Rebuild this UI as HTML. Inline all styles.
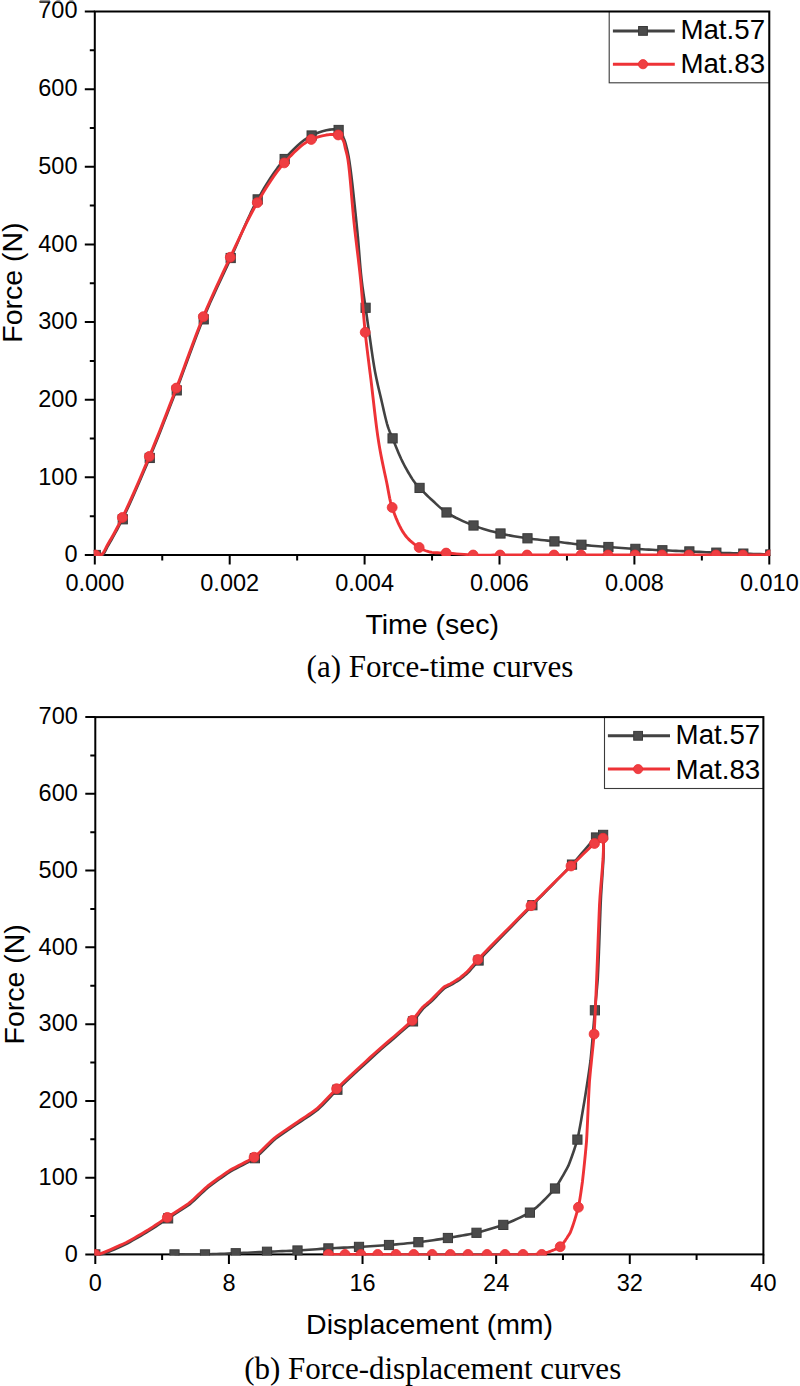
<!DOCTYPE html>
<html><head><meta charset="utf-8"><title>Force curves</title>
<style>
html,body{margin:0;padding:0;background:#fff;}
body{width:800px;height:1386px;overflow:hidden;}
svg{display:block;}
.tk{font-family:"Liberation Sans",Arial,sans-serif;font-size:23.5px;fill:#000;}
.lg{font-family:"Liberation Sans",Arial,sans-serif;font-size:27.7px;fill:#000;}
.at{font-family:"Liberation Sans",Arial,sans-serif;font-size:28.5px;fill:#000;}
.cap{font-family:"Liberation Serif","Times New Roman",serif;font-size:31px;fill:#000;}
</style></head>
<body>
<svg width="800" height="1386" viewBox="0 0 800 1386">
<rect width="800" height="1386" fill="#fff"/>
<rect x="609.20" y="11.50" width="160.10" height="71.30" fill="#fff" stroke="#3a3a3a" stroke-width="1.1"/>
<path d="M612.90,30.90 H674.80" stroke="#424242" stroke-width="3"/>
<rect x="638.60" y="26.50" width="8.8" height="8.8" fill="#4b4b4b" stroke="#3a3a3a" stroke-width="1"/>
<path d="M612.90,64.20 H674.80" stroke="#ee3236" stroke-width="3"/>
<circle cx="643.00" cy="64.20" r="4.6" fill="#ef3e42" stroke="#ec2d31" stroke-width="0.8"/>
<text x="680.40" y="39.30" class="lg">Mat.57</text>
<text x="680.40" y="72.90" class="lg">Mat.83</text>
<rect x="94.80" y="11.50" width="674.50" height="543.50" fill="none" stroke="#000" stroke-width="2"/>
<path d="M94.80,555.00 V564.50 M229.70,555.00 V564.50 M364.60,555.00 V564.50 M499.50,555.00 V564.50 M634.40,555.00 V564.50 M769.30,555.00 V564.50 M162.25,555.00 V560.50 M297.15,555.00 V560.50 M432.05,555.00 V560.50 M566.95,555.00 V560.50 M701.85,555.00 V560.50 M94.80,555.00 H84.80 M94.80,477.36 H84.80 M94.80,399.71 H84.80 M94.80,322.07 H84.80 M94.80,244.43 H84.80 M94.80,166.79 H84.80 M94.80,89.14 H84.80 M94.80,11.50 H84.80 M94.80,516.18 H89.80 M94.80,438.54 H89.80 M94.80,360.89 H89.80 M94.80,283.25 H89.80 M94.80,205.61 H89.80 M94.80,127.96 H89.80 M94.80,50.32 H89.80" stroke="#000" stroke-width="2" fill="none"/>
<text x="94.80" y="591.00" text-anchor="middle" class="tk">0.000</text>
<text x="229.70" y="591.00" text-anchor="middle" class="tk">0.002</text>
<text x="364.60" y="591.00" text-anchor="middle" class="tk">0.004</text>
<text x="499.50" y="591.00" text-anchor="middle" class="tk">0.006</text>
<text x="634.40" y="591.00" text-anchor="middle" class="tk">0.008</text>
<text x="769.30" y="591.00" text-anchor="middle" class="tk">0.010</text>
<text x="77.50" y="562.30" text-anchor="end" class="tk">0</text>
<text x="77.50" y="484.66" text-anchor="end" class="tk">100</text>
<text x="77.50" y="407.01" text-anchor="end" class="tk">200</text>
<text x="77.50" y="329.37" text-anchor="end" class="tk">300</text>
<text x="77.50" y="251.73" text-anchor="end" class="tk">400</text>
<text x="77.50" y="174.09" text-anchor="end" class="tk">500</text>
<text x="77.50" y="96.44" text-anchor="end" class="tk">600</text>
<text x="77.50" y="18.30" text-anchor="end" class="tk">700</text>
<clipPath id="ca"><rect x="93.80" y="10.50" width="676.50" height="545.50"/></clipPath>
<g clip-path="url(#ca)">
<path d="M95.20,556.00 L95.98,556.04 L96.78,556.15 L97.57,556.27 L98.37,556.39 L99.16,556.45 L99.93,556.44 L100.68,556.30 L101.40,556.00 L102.37,555.28 L103.27,554.29 L104.11,553.05 L104.93,551.63 L105.74,550.07 L106.57,548.41 L107.45,546.71 L108.40,545.00 L109.96,542.33 L111.61,539.48 L113.33,536.44 L115.12,533.22 L116.97,529.81 L118.87,526.22 L120.81,522.45 L122.78,518.50 L125.84,512.13 L129.08,505.14 L132.46,497.66 L135.93,489.81 L139.44,481.74 L142.94,473.55 L146.40,465.40 L149.76,457.39 L153.20,449.07 L156.61,440.66 L160.00,432.17 L163.37,423.61 L166.72,415.01 L170.06,406.37 L173.40,397.72 L176.74,389.07 L180.12,380.17 L183.47,371.16 L186.80,362.08 L190.12,353.00 L193.46,343.96 L196.83,335.01 L200.24,326.22 L203.72,317.64 L207.00,309.90 L210.32,302.33 L213.69,294.88 L217.08,287.52 L220.49,280.21 L223.90,272.92 L227.31,265.61 L230.70,258.24 L234.04,250.78 L237.33,243.20 L240.61,235.57 L243.90,227.98 L247.23,220.49 L250.62,213.18 L254.09,206.12 L257.68,199.40 L260.86,193.78 L264.08,188.28 L267.34,182.92 L270.66,177.72 L274.04,172.71 L277.50,167.90 L281.04,163.33 L284.66,159.02 L287.84,155.46 L291.06,151.99 L294.34,148.64 L297.68,145.47 L301.07,142.52 L304.53,139.84 L308.05,137.49 L311.64,135.50 L315.02,133.96 L318.70,132.54 L322.52,131.30 L326.35,130.30 L330.02,129.61 L333.39,129.28 L336.31,129.39 L338.62,129.98 L339.72,130.66 L340.63,131.57 L341.39,132.67 L342.02,133.90 L342.56,135.21 L343.05,136.53 L343.52,137.81 L344.00,139.00 L344.42,139.98 L344.78,140.94 L345.11,141.89 L345.40,142.84 L345.68,143.81 L345.94,144.82 L346.21,145.87 L346.50,147.00 L346.89,148.57 L347.27,150.15 L347.64,151.78 L348.00,153.50 L348.36,155.35 L348.73,157.36 L349.11,159.56 L349.50,162.00 L350.40,168.30 L351.39,176.00 L352.42,184.74 L353.47,194.14 L354.51,203.83 L355.52,213.46 L356.46,222.63 L357.30,231.00 L357.92,237.46 L358.47,243.82 L358.98,250.05 L359.46,256.13 L359.93,262.06 L360.42,267.81 L360.93,273.36 L361.50,278.70 L361.98,282.70 L362.48,286.55 L363.00,290.26 L363.53,293.87 L364.06,297.41 L364.58,300.88 L365.10,304.34 L365.60,307.79 L366.03,310.85 L366.45,313.79 L366.85,316.66 L367.25,319.51 L367.66,322.39 L368.08,325.35 L368.52,328.44 L369.00,331.70 L369.65,336.24 L370.34,341.11 L371.06,346.20 L371.80,351.42 L372.57,356.65 L373.36,361.79 L374.17,366.74 L375.00,371.40 L375.70,375.03 L376.42,378.51 L377.15,381.89 L377.89,385.19 L378.65,388.46 L379.42,391.73 L380.21,395.03 L381.00,398.40 L381.83,402.03 L382.69,405.81 L383.56,409.66 L384.44,413.49 L385.33,417.22 L386.22,420.77 L387.11,424.06 L388.00,427.00 L388.56,428.66 L389.10,430.14 L389.63,431.50 L390.17,432.79 L390.72,434.06 L391.30,435.38 L391.91,436.80 L392.58,438.38 L393.63,440.94 L394.76,443.74 L395.96,446.72 L397.21,449.81 L398.52,452.94 L399.86,456.04 L401.22,459.05 L402.60,461.90 L403.92,464.48 L405.31,467.10 L406.74,469.70 L408.19,472.25 L409.64,474.70 L411.05,477.00 L412.41,479.12 L413.70,481.00 L414.46,482.05 L415.17,482.98 L415.85,483.82 L416.52,484.61 L417.20,485.38 L417.92,486.17 L418.70,487.00 L419.56,487.92 L420.91,489.34 L422.39,490.85 L423.97,492.43 L425.63,494.05 L427.34,495.69 L429.07,497.33 L430.80,498.94 L432.50,500.50 L434.17,502.04 L435.80,503.58 L437.42,505.10 L439.07,506.62 L440.77,508.11 L442.57,509.59 L444.48,511.04 L446.54,512.45 L449.42,514.23 L452.55,516.00 L455.87,517.74 L459.34,519.43 L462.89,521.07 L466.47,522.63 L470.04,524.11 L473.52,525.50 L476.85,526.74 L480.20,527.89 L483.56,528.97 L486.94,529.98 L490.32,530.92 L493.71,531.82 L497.10,532.67 L500.50,533.49 L503.85,534.25 L507.22,534.95 L510.59,535.60 L513.96,536.20 L517.34,536.76 L520.72,537.29 L524.10,537.81 L527.48,538.31 L530.85,538.77 L534.22,539.20 L537.59,539.58 L540.96,539.95 L544.34,540.30 L547.71,540.66 L551.09,541.02 L554.46,541.41 L557.83,541.83 L561.20,542.26 L564.58,542.70 L567.95,543.14 L571.32,543.57 L574.69,543.99 L578.06,544.38 L581.44,544.75 L584.81,545.09 L588.18,545.40 L591.55,545.69 L594.93,545.97 L598.30,546.23 L601.67,546.49 L605.05,546.75 L608.42,547.00 L611.79,547.26 L615.16,547.51 L618.54,547.75 L621.91,547.99 L625.28,548.22 L628.65,548.44 L632.03,548.66 L635.40,548.87 L638.77,549.06 L642.14,549.25 L645.52,549.43 L648.89,549.61 L652.26,549.78 L655.63,549.94 L659.01,550.10 L662.38,550.26 L665.75,550.42 L669.12,550.57 L672.50,550.71 L675.87,550.86 L679.24,551.00 L682.61,551.14 L685.99,551.28 L689.36,551.43 L692.73,551.58 L696.10,551.74 L699.48,551.90 L702.85,552.06 L706.22,552.22 L709.59,552.38 L712.97,552.53 L716.34,552.67 L719.71,552.80 L723.08,552.93 L726.46,553.05 L729.83,553.16 L733.20,553.27 L736.57,553.38 L739.95,553.49 L743.32,553.60 L746.69,553.71 L750.06,553.82 L753.44,553.93 L756.81,554.03 L760.18,554.14 L763.55,554.24 L766.93,554.35 L770.30,554.46" fill="none" stroke="#424242" stroke-width="2.6" stroke-linejoin="round"/>
<rect x="91.20" y="550.40" width="9.2" height="9.2" fill="#4b4b4b" stroke="#3a3a3a" stroke-width="1"/>
<rect x="118.18" y="514.68" width="9.2" height="9.2" fill="#4b4b4b" stroke="#3a3a3a" stroke-width="1"/>
<rect x="145.16" y="453.35" width="9.2" height="9.2" fill="#4b4b4b" stroke="#3a3a3a" stroke-width="1"/>
<rect x="172.14" y="385.80" width="9.2" height="9.2" fill="#4b4b4b" stroke="#3a3a3a" stroke-width="1"/>
<rect x="199.12" y="314.75" width="9.2" height="9.2" fill="#4b4b4b" stroke="#3a3a3a" stroke-width="1"/>
<rect x="226.10" y="253.42" width="9.2" height="9.2" fill="#4b4b4b" stroke="#3a3a3a" stroke-width="1"/>
<rect x="253.08" y="194.80" width="9.2" height="9.2" fill="#4b4b4b" stroke="#3a3a3a" stroke-width="1"/>
<rect x="280.06" y="154.42" width="9.2" height="9.2" fill="#4b4b4b" stroke="#3a3a3a" stroke-width="1"/>
<rect x="307.04" y="130.90" width="9.2" height="9.2" fill="#4b4b4b" stroke="#3a3a3a" stroke-width="1"/>
<rect x="334.02" y="125.38" width="9.2" height="9.2" fill="#4b4b4b" stroke="#3a3a3a" stroke-width="1"/>
<rect x="361.00" y="303.19" width="9.2" height="9.2" fill="#4b4b4b" stroke="#3a3a3a" stroke-width="1"/>
<rect x="387.98" y="433.78" width="9.2" height="9.2" fill="#4b4b4b" stroke="#3a3a3a" stroke-width="1"/>
<rect x="414.96" y="483.32" width="9.2" height="9.2" fill="#4b4b4b" stroke="#3a3a3a" stroke-width="1"/>
<rect x="441.94" y="507.85" width="9.2" height="9.2" fill="#4b4b4b" stroke="#3a3a3a" stroke-width="1"/>
<rect x="468.92" y="520.90" width="9.2" height="9.2" fill="#4b4b4b" stroke="#3a3a3a" stroke-width="1"/>
<rect x="495.90" y="528.89" width="9.2" height="9.2" fill="#4b4b4b" stroke="#3a3a3a" stroke-width="1"/>
<rect x="522.88" y="533.71" width="9.2" height="9.2" fill="#4b4b4b" stroke="#3a3a3a" stroke-width="1"/>
<rect x="549.86" y="536.81" width="9.2" height="9.2" fill="#4b4b4b" stroke="#3a3a3a" stroke-width="1"/>
<rect x="576.84" y="540.15" width="9.2" height="9.2" fill="#4b4b4b" stroke="#3a3a3a" stroke-width="1"/>
<rect x="603.82" y="542.40" width="9.2" height="9.2" fill="#4b4b4b" stroke="#3a3a3a" stroke-width="1"/>
<rect x="630.80" y="544.27" width="9.2" height="9.2" fill="#4b4b4b" stroke="#3a3a3a" stroke-width="1"/>
<rect x="657.78" y="545.66" width="9.2" height="9.2" fill="#4b4b4b" stroke="#3a3a3a" stroke-width="1"/>
<rect x="684.76" y="546.83" width="9.2" height="9.2" fill="#4b4b4b" stroke="#3a3a3a" stroke-width="1"/>
<rect x="711.74" y="548.07" width="9.2" height="9.2" fill="#4b4b4b" stroke="#3a3a3a" stroke-width="1"/>
<rect x="738.72" y="549.00" width="9.2" height="9.2" fill="#4b4b4b" stroke="#3a3a3a" stroke-width="1"/>
<rect x="765.70" y="549.86" width="9.2" height="9.2" fill="#4b4b4b" stroke="#3a3a3a" stroke-width="1"/>
<path d="M94.80,555.00 L95.58,555.04 L96.38,555.15 L97.17,555.27 L97.97,555.39 L98.76,555.45 L99.53,555.44 L100.28,555.30 L101.00,555.00 L101.97,554.28 L102.87,553.29 L103.71,552.05 L104.53,550.63 L105.34,549.07 L106.17,547.41 L107.05,545.71 L108.00,544.00 L109.56,541.33 L111.21,538.48 L112.93,535.44 L114.72,532.22 L116.57,528.81 L118.47,525.22 L120.41,521.45 L122.38,517.50 L125.44,511.13 L128.68,504.14 L132.06,496.66 L135.53,488.81 L139.04,480.74 L142.54,472.55 L146.00,464.40 L149.36,456.39 L152.80,448.07 L156.21,439.66 L159.60,431.17 L162.97,422.61 L166.32,414.01 L169.66,405.37 L173.00,396.72 L176.34,388.07 L179.72,379.17 L183.07,370.16 L186.40,361.08 L189.72,352.00 L193.06,342.96 L196.43,334.01 L199.84,325.22 L203.32,316.64 L206.59,308.89 L209.90,301.27 L213.25,293.77 L216.63,286.36 L220.03,279.02 L223.44,271.73 L226.87,264.48 L230.30,257.24 L233.60,250.21 L236.90,243.16 L240.19,236.11 L243.51,229.13 L246.86,222.24 L250.26,215.51 L253.73,208.96 L257.28,202.66 L260.49,197.20 L263.72,191.82 L266.99,186.55 L270.30,181.42 L273.68,176.46 L277.12,171.70 L280.65,167.17 L284.26,162.90 L287.44,159.36 L290.67,155.88 L293.94,152.52 L297.28,149.33 L300.67,146.38 L304.12,143.71 L307.65,141.38 L311.24,139.46 L314.62,138.05 L318.31,136.83 L322.15,135.82 L325.99,135.06 L329.67,134.57 L333.04,134.37 L335.94,134.49 L338.22,134.95 L339.12,135.33 L339.89,135.81 L340.56,136.38 L341.14,137.02 L341.65,137.72 L342.12,138.46 L342.56,139.22 L343.00,140.00 L343.45,140.92 L343.83,141.91 L344.14,142.95 L344.41,144.03 L344.65,145.15 L344.88,146.29 L345.13,147.44 L345.40,148.60 L345.73,149.88 L346.06,151.11 L346.39,152.34 L346.71,153.61 L347.03,154.96 L347.35,156.45 L347.68,158.11 L348.00,160.00 L348.75,165.48 L349.50,172.29 L350.25,180.13 L351.00,188.66 L351.76,197.55 L352.52,206.49 L353.30,215.15 L354.10,223.20 L354.88,230.32 L355.69,237.35 L356.52,244.32 L357.36,251.23 L358.19,258.11 L359.00,264.97 L359.77,271.83 L360.50,278.70 L361.15,285.47 L361.75,292.25 L362.32,299.03 L362.86,305.79 L363.40,312.51 L363.96,319.19 L364.56,325.79 L365.20,332.32 L365.85,338.31 L366.51,344.15 L367.20,349.90 L367.91,355.62 L368.63,361.37 L369.37,367.21 L370.13,373.20 L370.90,379.40 L371.81,386.99 L372.72,394.97 L373.66,403.19 L374.62,411.51 L375.61,419.79 L376.63,427.87 L377.69,435.63 L378.80,442.90 L379.73,448.37 L380.70,453.69 L381.71,458.85 L382.73,463.87 L383.76,468.74 L384.77,473.47 L385.76,478.05 L386.70,482.50 L387.38,485.90 L387.98,489.15 L388.54,492.28 L389.11,495.34 L389.72,498.35 L390.40,501.35 L391.21,504.39 L392.18,507.48 L393.40,511.00 L394.75,514.65 L396.21,518.35 L397.78,522.04 L399.46,525.63 L401.22,529.03 L403.07,532.18 L405.00,535.00 L406.60,537.00 L408.30,538.87 L410.07,540.60 L411.89,542.21 L413.73,543.70 L415.57,545.07 L417.39,546.33 L419.16,547.47 L420.51,548.28 L421.83,549.01 L423.13,549.66 L424.43,550.24 L425.75,550.75 L427.11,551.21 L428.52,551.63 L430.00,552.00 L431.81,552.35 L433.67,552.58 L435.58,552.72 L437.55,552.80 L439.58,552.84 L441.69,552.88 L443.87,552.94 L446.14,553.06 L449.36,553.29 L452.82,553.55 L456.44,553.83 L460.17,554.12 L463.96,554.39 L467.73,554.64 L471.43,554.85 L475.00,555.00 L478.21,555.08 L481.37,555.12 L484.50,555.13 L487.60,555.11 L490.70,555.08 L493.80,555.04 L496.93,555.01 L500.10,555.00 L503.43,555.00 L506.78,555.00 L510.15,555.00 L513.53,555.00 L516.92,555.00 L520.31,555.00 L523.70,555.00 L527.08,555.00 L530.45,555.00 L533.83,555.00 L537.20,555.00 L540.57,555.00 L543.94,555.00 L547.32,555.00 L550.69,555.00 L554.06,555.00 L557.43,555.00 L560.81,555.00 L564.18,555.00 L567.55,555.00 L570.92,555.00 L574.30,555.00 L577.67,555.00 L581.04,555.00 L584.41,555.00 L587.79,555.00 L591.16,555.00 L594.53,555.00 L597.90,555.00 L601.27,555.00 L604.65,555.00 L608.02,555.00 L611.39,555.00 L614.77,555.00 L618.14,555.00 L621.51,555.00 L624.88,555.00 L628.26,555.00 L631.63,555.00 L635.00,555.00 L638.37,555.00 L641.75,555.00 L645.12,555.00 L648.49,555.00 L651.86,555.00 L655.24,555.00 L658.61,555.00 L661.98,555.00 L665.35,555.00 L668.73,555.00 L672.10,555.00 L675.47,555.00 L678.84,555.00 L682.22,555.00 L685.59,555.00 L688.96,555.00 L692.33,555.00 L695.70,555.00 L699.08,555.00 L702.45,555.00 L705.82,555.00 L709.19,555.00 L712.57,555.00 L715.94,555.00 L719.31,555.00 L722.68,555.00 L726.06,555.00 L729.43,555.00 L732.80,555.00 L736.18,555.00 L739.55,555.00 L742.92,555.00 L746.29,555.00 L749.67,555.00 L753.04,555.00 L756.41,555.00 L759.78,555.00 L763.15,555.00 L766.53,555.00 L769.90,555.00" fill="none" stroke="#ee3236" stroke-width="2.9" stroke-linejoin="round"/>
<circle cx="95.40" cy="555.00" r="4.95" fill="#ef3e42" stroke="#ec2d31" stroke-width="0.8"/>
<circle cx="122.38" cy="517.50" r="4.95" fill="#ef3e42" stroke="#ec2d31" stroke-width="0.8"/>
<circle cx="149.36" cy="456.39" r="4.95" fill="#ef3e42" stroke="#ec2d31" stroke-width="0.8"/>
<circle cx="176.34" cy="388.07" r="4.95" fill="#ef3e42" stroke="#ec2d31" stroke-width="0.8"/>
<circle cx="203.32" cy="316.64" r="4.95" fill="#ef3e42" stroke="#ec2d31" stroke-width="0.8"/>
<circle cx="230.30" cy="257.24" r="4.95" fill="#ef3e42" stroke="#ec2d31" stroke-width="0.8"/>
<circle cx="257.28" cy="202.66" r="4.95" fill="#ef3e42" stroke="#ec2d31" stroke-width="0.8"/>
<circle cx="284.26" cy="162.90" r="4.95" fill="#ef3e42" stroke="#ec2d31" stroke-width="0.8"/>
<circle cx="311.24" cy="139.46" r="4.95" fill="#ef3e42" stroke="#ec2d31" stroke-width="0.8"/>
<circle cx="338.22" cy="134.95" r="4.95" fill="#ef3e42" stroke="#ec2d31" stroke-width="0.8"/>
<circle cx="365.20" cy="332.32" r="4.95" fill="#ef3e42" stroke="#ec2d31" stroke-width="0.8"/>
<circle cx="392.18" cy="507.48" r="4.95" fill="#ef3e42" stroke="#ec2d31" stroke-width="0.8"/>
<circle cx="419.16" cy="547.47" r="4.95" fill="#ef3e42" stroke="#ec2d31" stroke-width="0.8"/>
<circle cx="446.14" cy="553.06" r="4.95" fill="#ef3e42" stroke="#ec2d31" stroke-width="0.8"/>
<circle cx="473.12" cy="555.00" r="4.95" fill="#ef3e42" stroke="#ec2d31" stroke-width="0.8"/>
<circle cx="500.10" cy="555.00" r="4.95" fill="#ef3e42" stroke="#ec2d31" stroke-width="0.8"/>
<circle cx="527.08" cy="555.00" r="4.95" fill="#ef3e42" stroke="#ec2d31" stroke-width="0.8"/>
<circle cx="554.06" cy="555.00" r="4.95" fill="#ef3e42" stroke="#ec2d31" stroke-width="0.8"/>
<circle cx="581.04" cy="555.00" r="4.95" fill="#ef3e42" stroke="#ec2d31" stroke-width="0.8"/>
<circle cx="608.02" cy="555.00" r="4.95" fill="#ef3e42" stroke="#ec2d31" stroke-width="0.8"/>
<circle cx="635.00" cy="555.00" r="4.95" fill="#ef3e42" stroke="#ec2d31" stroke-width="0.8"/>
<circle cx="661.98" cy="555.00" r="4.95" fill="#ef3e42" stroke="#ec2d31" stroke-width="0.8"/>
<circle cx="688.96" cy="555.00" r="4.95" fill="#ef3e42" stroke="#ec2d31" stroke-width="0.8"/>
<circle cx="715.94" cy="555.00" r="4.95" fill="#ef3e42" stroke="#ec2d31" stroke-width="0.8"/>
<circle cx="742.92" cy="555.00" r="4.95" fill="#ef3e42" stroke="#ec2d31" stroke-width="0.8"/>
<circle cx="769.90" cy="555.00" r="4.95" fill="#ef3e42" stroke="#ec2d31" stroke-width="0.8"/>
</g>
<text x="432.2" y="634" text-anchor="middle" class="at">Time (sec)</text>
<text transform="translate(22.3,282.6) rotate(-90)" text-anchor="middle" class="at">Force (N)</text>
<text x="440" y="677" text-anchor="middle" class="cap">(a) Force-time curves</text>
<rect x="604.50" y="717.10" width="158.90" height="71.40" fill="#fff" stroke="#3a3a3a" stroke-width="1.1"/>
<path d="M607.90,735.80 H670.00" stroke="#424242" stroke-width="3"/>
<rect x="633.70" y="731.40" width="8.8" height="8.8" fill="#4b4b4b" stroke="#3a3a3a" stroke-width="1"/>
<path d="M607.90,769.10 H670.00" stroke="#ee3236" stroke-width="3"/>
<circle cx="638.10" cy="769.10" r="4.6" fill="#ef3e42" stroke="#ec2d31" stroke-width="0.8"/>
<text x="675.60" y="744.40" class="lg">Mat.57</text>
<text x="675.60" y="778.50" class="lg">Mat.83</text>
<rect x="95.30" y="717.10" width="668.10" height="537.30" fill="none" stroke="#000" stroke-width="2"/>
<path d="M95.30,1254.40 V1263.90 M228.92,1254.40 V1263.90 M362.54,1254.40 V1263.90 M496.16,1254.40 V1263.90 M629.78,1254.40 V1263.90 M763.40,1254.40 V1263.90 M162.11,1254.40 V1259.90 M295.73,1254.40 V1259.90 M429.35,1254.40 V1259.90 M562.97,1254.40 V1259.90 M696.59,1254.40 V1259.90 M95.30,1254.40 H85.30 M95.30,1177.64 H85.30 M95.30,1100.89 H85.30 M95.30,1024.13 H85.30 M95.30,947.37 H85.30 M95.30,870.61 H85.30 M95.30,793.86 H85.30 M95.30,717.10 H85.30 M95.30,1216.02 H90.30 M95.30,1139.26 H90.30 M95.30,1062.51 H90.30 M95.30,985.75 H90.30 M95.30,908.99 H90.30 M95.30,832.24 H90.30 M95.30,755.48 H90.30" stroke="#000" stroke-width="2" fill="none"/>
<text x="95.30" y="1290.50" text-anchor="middle" class="tk">0</text>
<text x="228.92" y="1290.50" text-anchor="middle" class="tk">8</text>
<text x="362.54" y="1290.50" text-anchor="middle" class="tk">16</text>
<text x="496.16" y="1290.50" text-anchor="middle" class="tk">24</text>
<text x="629.78" y="1290.50" text-anchor="middle" class="tk">32</text>
<text x="763.40" y="1290.50" text-anchor="middle" class="tk">40</text>
<text x="77.80" y="1261.70" text-anchor="end" class="tk">0</text>
<text x="77.80" y="1184.94" text-anchor="end" class="tk">100</text>
<text x="77.80" y="1108.19" text-anchor="end" class="tk">200</text>
<text x="77.80" y="1031.43" text-anchor="end" class="tk">300</text>
<text x="77.80" y="954.67" text-anchor="end" class="tk">400</text>
<text x="77.80" y="877.91" text-anchor="end" class="tk">500</text>
<text x="77.80" y="801.16" text-anchor="end" class="tk">600</text>
<text x="77.80" y="724.40" text-anchor="end" class="tk">700</text>
<clipPath id="cb"><rect x="94.30" y="716.10" width="670.10" height="539.30"/></clipPath>
<g clip-path="url(#cb)">
<path d="M95.30,1254.40 L96.13,1254.41 L96.94,1254.44 L97.75,1254.48 L98.56,1254.51 L99.38,1254.53 L100.23,1254.53 L101.12,1254.49 L102.05,1254.40 L104.82,1253.39 L107.79,1252.21 L110.92,1250.89 L114.15,1249.47 L117.43,1247.99 L120.70,1246.47 L123.93,1244.96 L127.05,1243.50 L129.83,1241.99 L132.58,1240.45 L135.32,1238.90 L138.04,1237.33 L140.75,1235.76 L143.45,1234.17 L146.13,1232.59 L148.80,1231.00 L151.25,1229.44 L153.67,1227.88 L156.07,1226.31 L158.47,1224.74 L160.86,1223.16 L163.26,1221.58 L165.67,1219.99 L168.10,1218.40 L170.76,1216.68 L173.45,1214.96 L176.16,1213.25 L178.87,1211.52 L181.58,1209.78 L184.27,1208.02 L186.93,1206.23 L189.55,1204.40 L191.95,1202.33 L194.30,1200.20 L196.62,1198.04 L198.93,1195.87 L201.23,1193.68 L203.56,1191.51 L205.91,1189.36 L208.30,1187.25 L210.97,1185.24 L213.66,1183.24 L216.37,1181.25 L219.10,1179.28 L221.85,1177.33 L224.61,1175.40 L227.40,1173.49 L230.20,1171.60 L233.25,1169.88 L236.34,1168.23 L239.47,1166.61 L242.61,1165.00 L245.74,1163.38 L248.84,1161.73 L251.90,1160.01 L254.90,1158.20 L257.57,1155.90 L260.18,1153.51 L262.75,1151.04 L265.29,1148.55 L267.82,1146.04 L270.36,1143.56 L272.91,1141.14 L275.50,1138.80 L278.01,1136.95 L280.53,1135.15 L283.06,1133.40 L285.59,1131.66 L288.14,1129.95 L290.68,1128.23 L293.24,1126.50 L295.80,1124.75 L298.53,1122.90 L301.28,1121.07 L304.04,1119.24 L306.81,1117.40 L309.57,1115.55 L312.31,1113.66 L315.02,1111.73 L317.70,1109.75 L320.21,1107.37 L322.64,1104.96 L325.04,1102.52 L327.42,1100.03 L329.82,1097.51 L332.26,1094.95 L334.78,1092.35 L337.40,1089.70 L341.88,1085.46 L346.53,1081.09 L351.32,1076.62 L356.19,1072.08 L361.11,1067.52 L366.05,1062.96 L370.96,1058.44 L375.80,1054.00 L380.54,1049.83 L385.39,1045.63 L390.29,1041.42 L395.17,1037.23 L399.95,1033.11 L404.57,1029.07 L408.94,1025.16 L413.00,1021.40 L414.49,1019.65 L415.87,1017.94 L417.17,1016.26 L418.42,1014.61 L419.63,1013.00 L420.83,1011.43 L422.05,1009.89 L423.30,1008.40 L424.29,1007.49 L425.26,1006.62 L426.23,1005.80 L427.20,1004.99 L428.18,1004.18 L429.17,1003.36 L430.17,1002.50 L431.20,1001.60 L432.82,1000.00 L434.50,998.28 L436.22,996.50 L437.96,994.69 L439.69,992.91 L441.41,991.18 L443.08,989.57 L444.70,988.10 L445.57,987.59 L446.41,987.13 L447.24,986.71 L448.07,986.32 L448.89,985.93 L449.71,985.55 L450.55,985.14 L451.40,984.70 L452.50,984.04 L453.62,983.37 L454.76,982.69 L455.90,981.99 L457.04,981.28 L458.17,980.56 L459.30,979.83 L460.40,979.10 L461.41,978.30 L462.41,977.50 L463.39,976.69 L464.37,975.87 L465.34,975.03 L466.32,974.18 L467.31,973.30 L468.30,972.40 L469.54,971.04 L470.75,969.66 L471.95,968.26 L473.16,966.83 L474.40,965.35 L475.71,963.81 L477.10,962.20 L478.60,960.50 L484.33,954.51 L490.64,947.98 L497.39,941.04 L504.42,933.83 L511.59,926.50 L518.74,919.19 L525.73,912.04 L532.40,905.20 L537.53,899.95 L542.64,894.74 L547.70,889.58 L552.72,884.47 L557.67,879.41 L562.54,874.42 L567.32,869.48 L572.00,864.60 L575.20,861.00 L578.37,857.31 L581.50,853.62 L584.58,849.98 L587.57,846.48 L590.49,843.19 L593.30,840.17 L596.00,837.50 L596.96,836.98 L597.91,836.49 L598.84,836.02 L599.75,835.61 L600.63,835.28 L601.49,835.03 L602.31,834.90 L603.10,834.90 L603.66,840.85 L603.75,848.28 L603.50,856.85 L602.99,866.23 L602.34,876.08 L601.66,886.05 L601.04,895.80 L600.60,905.00 L600.26,914.19 L599.93,923.54 L599.60,932.97 L599.27,942.37 L598.92,951.67 L598.57,960.77 L598.20,969.57 L597.80,978.00 L597.46,982.33 L597.11,986.45 L596.75,990.43 L596.39,994.33 L596.03,998.21 L595.65,1002.13 L595.28,1006.14 L594.90,1010.30 L594.38,1016.36 L593.86,1022.60 L593.34,1028.95 L592.81,1035.38 L592.26,1041.83 L591.70,1048.25 L591.11,1054.59 L590.50,1060.80 L589.79,1065.97 L589.06,1071.08 L588.31,1076.15 L587.55,1081.18 L586.77,1086.19 L585.99,1091.19 L585.20,1096.19 L584.40,1101.20 L583.56,1106.05 L582.73,1110.93 L581.90,1115.81 L581.06,1120.68 L580.20,1125.51 L579.31,1130.29 L578.38,1134.99 L577.40,1139.60 L576.35,1143.03 L575.28,1146.41 L574.20,1149.74 L573.09,1153.02 L571.95,1156.27 L570.77,1159.50 L569.56,1162.70 L568.30,1165.90 L566.75,1168.81 L565.17,1171.72 L563.55,1174.60 L561.89,1177.47 L560.21,1180.29 L558.49,1183.08 L556.76,1185.82 L555.00,1188.50 L553.18,1190.59 L551.32,1192.65 L549.43,1194.68 L547.52,1196.67 L545.60,1198.62 L543.70,1200.52 L541.83,1202.39 L540.00,1204.20 L538.73,1205.33 L537.50,1206.42 L536.30,1207.48 L535.10,1208.51 L533.88,1209.53 L532.63,1210.54 L531.31,1211.56 L529.90,1212.60 L526.91,1214.16 L523.74,1215.74 L520.45,1217.32 L517.06,1218.89 L513.61,1220.45 L510.14,1221.98 L506.69,1223.47 L503.30,1224.90 L499.97,1225.99 L496.64,1227.05 L493.31,1228.07 L489.96,1229.06 L486.61,1230.03 L483.25,1230.97 L479.88,1231.89 L476.50,1232.80 L472.96,1233.52 L469.40,1234.21 L465.83,1234.88 L462.26,1235.52 L458.67,1236.15 L455.08,1236.77 L451.49,1237.38 L447.90,1238.00 L444.23,1238.56 L440.54,1239.10 L436.86,1239.64 L433.17,1240.18 L429.48,1240.70 L425.78,1241.21 L422.09,1241.71 L418.40,1242.20 L414.73,1242.59 L411.06,1242.96 L407.38,1243.32 L403.71,1243.67 L400.04,1244.01 L396.36,1244.35 L392.68,1244.68 L389.00,1245.00 L385.26,1245.26 L381.52,1245.51 L377.77,1245.76 L374.02,1245.99 L370.27,1246.22 L366.51,1246.45 L362.76,1246.68 L359.00,1246.90 L355.18,1247.10 L351.36,1247.28 L347.54,1247.46 L343.71,1247.64 L339.89,1247.83 L336.06,1248.01 L332.23,1248.20 L328.40,1248.40 L324.54,1248.65 L320.68,1248.91 L316.81,1249.18 L312.95,1249.46 L309.08,1249.73 L305.22,1250.00 L301.36,1250.26 L297.50,1250.50 L293.68,1250.68 L289.87,1250.84 L286.06,1250.99 L282.26,1251.14 L278.45,1251.29 L274.64,1251.44 L270.82,1251.59 L267.00,1251.75 L263.10,1251.93 L259.20,1252.12 L255.29,1252.31 L251.38,1252.50 L247.47,1252.69 L243.56,1252.88 L239.65,1253.07 L235.75,1253.25 L231.90,1253.41 L228.05,1253.56 L224.21,1253.72 L220.36,1253.87 L216.52,1254.02 L212.68,1254.16 L208.84,1254.28 L205.00,1254.40 L201.18,1254.43 L197.37,1254.44 L193.56,1254.44 L189.75,1254.44 L185.93,1254.43 L182.12,1254.41 L178.31,1254.40 L174.50,1254.40" fill="none" stroke="#424242" stroke-width="2.6" stroke-linejoin="round"/>
<rect x="90.70" y="1249.80" width="9.2" height="9.2" fill="#4b4b4b" stroke="#3a3a3a" stroke-width="1"/>
<rect x="163.50" y="1213.80" width="9.2" height="9.2" fill="#4b4b4b" stroke="#3a3a3a" stroke-width="1"/>
<rect x="250.30" y="1153.60" width="9.2" height="9.2" fill="#4b4b4b" stroke="#3a3a3a" stroke-width="1"/>
<rect x="332.80" y="1085.10" width="9.2" height="9.2" fill="#4b4b4b" stroke="#3a3a3a" stroke-width="1"/>
<rect x="408.40" y="1016.80" width="9.2" height="9.2" fill="#4b4b4b" stroke="#3a3a3a" stroke-width="1"/>
<rect x="474.00" y="955.90" width="9.2" height="9.2" fill="#4b4b4b" stroke="#3a3a3a" stroke-width="1"/>
<rect x="527.80" y="900.60" width="9.2" height="9.2" fill="#4b4b4b" stroke="#3a3a3a" stroke-width="1"/>
<rect x="567.40" y="860.00" width="9.2" height="9.2" fill="#4b4b4b" stroke="#3a3a3a" stroke-width="1"/>
<rect x="591.40" y="832.90" width="9.2" height="9.2" fill="#4b4b4b" stroke="#3a3a3a" stroke-width="1"/>
<rect x="598.50" y="830.30" width="9.2" height="9.2" fill="#4b4b4b" stroke="#3a3a3a" stroke-width="1"/>
<rect x="590.30" y="1005.70" width="9.2" height="9.2" fill="#4b4b4b" stroke="#3a3a3a" stroke-width="1"/>
<rect x="572.80" y="1135.00" width="9.2" height="9.2" fill="#4b4b4b" stroke="#3a3a3a" stroke-width="1"/>
<rect x="550.40" y="1183.90" width="9.2" height="9.2" fill="#4b4b4b" stroke="#3a3a3a" stroke-width="1"/>
<rect x="525.30" y="1208.00" width="9.2" height="9.2" fill="#4b4b4b" stroke="#3a3a3a" stroke-width="1"/>
<rect x="498.70" y="1220.30" width="9.2" height="9.2" fill="#4b4b4b" stroke="#3a3a3a" stroke-width="1"/>
<rect x="471.90" y="1228.20" width="9.2" height="9.2" fill="#4b4b4b" stroke="#3a3a3a" stroke-width="1"/>
<rect x="443.30" y="1233.40" width="9.2" height="9.2" fill="#4b4b4b" stroke="#3a3a3a" stroke-width="1"/>
<rect x="413.80" y="1237.60" width="9.2" height="9.2" fill="#4b4b4b" stroke="#3a3a3a" stroke-width="1"/>
<rect x="384.40" y="1240.40" width="9.2" height="9.2" fill="#4b4b4b" stroke="#3a3a3a" stroke-width="1"/>
<rect x="354.40" y="1242.30" width="9.2" height="9.2" fill="#4b4b4b" stroke="#3a3a3a" stroke-width="1"/>
<rect x="323.80" y="1243.80" width="9.2" height="9.2" fill="#4b4b4b" stroke="#3a3a3a" stroke-width="1"/>
<rect x="292.90" y="1245.90" width="9.2" height="9.2" fill="#4b4b4b" stroke="#3a3a3a" stroke-width="1"/>
<rect x="262.40" y="1247.15" width="9.2" height="9.2" fill="#4b4b4b" stroke="#3a3a3a" stroke-width="1"/>
<rect x="231.15" y="1248.65" width="9.2" height="9.2" fill="#4b4b4b" stroke="#3a3a3a" stroke-width="1"/>
<rect x="200.40" y="1249.80" width="9.2" height="9.2" fill="#4b4b4b" stroke="#3a3a3a" stroke-width="1"/>
<rect x="169.90" y="1249.80" width="9.2" height="9.2" fill="#4b4b4b" stroke="#3a3a3a" stroke-width="1"/>
<path d="M95.30,1254.40 L96.03,1254.28 L96.74,1254.18 L97.45,1254.08 L98.16,1253.98 L98.88,1253.87 L99.63,1253.74 L100.42,1253.59 L101.25,1253.40 L103.98,1252.33 L106.94,1251.12 L110.06,1249.80 L113.30,1248.39 L116.59,1246.93 L119.89,1245.44 L123.12,1243.96 L126.25,1242.50 L129.03,1240.99 L131.78,1239.45 L134.52,1237.90 L137.24,1236.33 L139.95,1234.76 L142.65,1233.17 L145.33,1231.59 L148.00,1230.00 L150.45,1228.44 L152.87,1226.88 L155.27,1225.31 L157.67,1223.74 L160.06,1222.16 L162.46,1220.58 L164.87,1218.99 L167.30,1217.40 L169.96,1215.68 L172.65,1213.96 L175.36,1212.25 L178.07,1210.52 L180.78,1208.78 L183.47,1207.02 L186.13,1205.23 L188.75,1203.40 L191.15,1201.33 L193.50,1199.20 L195.82,1197.04 L198.13,1194.87 L200.43,1192.68 L202.76,1190.51 L205.11,1188.36 L207.50,1186.25 L210.17,1184.24 L212.86,1182.24 L215.57,1180.25 L218.30,1178.28 L221.05,1176.33 L223.81,1174.40 L226.60,1172.49 L229.40,1170.60 L232.45,1168.88 L235.54,1167.23 L238.67,1165.61 L241.81,1164.00 L244.94,1162.38 L248.04,1160.73 L251.10,1159.01 L254.10,1157.20 L256.77,1154.90 L259.38,1152.51 L261.95,1150.04 L264.49,1147.55 L267.02,1145.04 L269.56,1142.56 L272.11,1140.14 L274.70,1137.80 L277.21,1135.95 L279.73,1134.15 L282.26,1132.40 L284.79,1130.66 L287.34,1128.95 L289.88,1127.23 L292.44,1125.50 L295.00,1123.75 L297.73,1121.90 L300.48,1120.07 L303.24,1118.24 L306.01,1116.40 L308.77,1114.55 L311.51,1112.66 L314.22,1110.73 L316.90,1108.75 L319.41,1106.37 L321.84,1103.96 L324.24,1101.52 L326.62,1099.03 L329.02,1096.51 L331.46,1093.95 L333.98,1091.35 L336.60,1088.70 L341.08,1084.46 L345.73,1080.09 L350.52,1075.62 L355.39,1071.08 L360.31,1066.52 L365.25,1061.96 L370.16,1057.44 L375.00,1053.00 L379.74,1048.83 L384.59,1044.63 L389.49,1040.42 L394.37,1036.23 L399.15,1032.11 L403.77,1028.07 L408.14,1024.16 L412.20,1020.40 L413.69,1018.65 L415.07,1016.94 L416.37,1015.26 L417.62,1013.61 L418.83,1012.00 L420.03,1010.43 L421.25,1008.89 L422.50,1007.40 L423.49,1006.49 L424.46,1005.62 L425.43,1004.80 L426.40,1003.99 L427.38,1003.18 L428.37,1002.36 L429.37,1001.50 L430.40,1000.60 L432.02,999.00 L433.70,997.28 L435.42,995.50 L437.16,993.69 L438.89,991.91 L440.61,990.18 L442.28,988.57 L443.90,987.10 L444.77,986.59 L445.61,986.13 L446.44,985.71 L447.27,985.32 L448.09,984.93 L448.91,984.55 L449.75,984.14 L450.60,983.70 L451.70,983.04 L452.82,982.37 L453.96,981.69 L455.10,980.99 L456.24,980.28 L457.37,979.56 L458.50,978.83 L459.60,978.10 L460.61,977.30 L461.61,976.50 L462.59,975.69 L463.57,974.87 L464.54,974.03 L465.52,973.18 L466.51,972.30 L467.50,971.40 L468.74,970.04 L469.95,968.66 L471.15,967.26 L472.36,965.82 L473.60,964.34 L474.91,962.80 L476.30,961.19 L477.80,959.50 L483.47,953.66 L489.71,947.29 L496.37,940.53 L503.32,933.53 L510.40,926.40 L517.47,919.30 L524.38,912.35 L531.00,905.70 L536.17,900.55 L541.31,895.42 L546.43,890.33 L551.49,885.30 L556.50,880.33 L561.43,875.45 L566.27,870.67 L571.00,866.00 L574.12,862.97 L577.21,859.95 L580.26,856.95 L583.26,854.02 L586.20,851.18 L589.06,848.46 L591.83,845.89 L594.50,843.50 L595.66,842.66 L596.80,841.80 L597.93,840.96 L599.02,840.17 L600.08,839.47 L601.11,838.89 L602.08,838.47 L603.00,838.25 L603.44,843.81 L603.41,850.82 L603.02,858.95 L602.38,867.88 L601.59,877.28 L600.78,886.82 L600.05,896.17 L599.50,905.00 L599.12,914.31 L598.75,923.74 L598.38,933.23 L598.03,942.75 L597.67,952.23 L597.32,961.63 L596.96,970.90 L596.60,980.00 L596.30,986.99 L596.01,993.88 L595.72,1000.70 L595.43,1007.45 L595.13,1014.15 L594.81,1020.82 L594.47,1027.46 L594.10,1034.10 L593.57,1040.02 L593.01,1045.87 L592.41,1051.68 L591.81,1057.47 L591.21,1063.26 L590.61,1069.10 L590.04,1075.00 L589.50,1081.00 L589.08,1088.43 L588.69,1096.02 L588.34,1103.71 L588.00,1111.44 L587.65,1119.15 L587.30,1126.79 L586.92,1134.29 L586.50,1141.60 L586.03,1146.88 L585.54,1152.10 L585.04,1157.26 L584.53,1162.36 L584.01,1167.38 L583.48,1172.33 L582.94,1177.21 L582.40,1182.00 L581.93,1185.31 L581.47,1188.54 L581.01,1191.72 L580.54,1194.85 L580.06,1197.96 L579.55,1201.06 L579.00,1204.17 L578.40,1207.30 L577.50,1210.49 L576.57,1213.72 L575.62,1216.96 L574.63,1220.18 L573.60,1223.37 L572.54,1226.50 L571.44,1229.56 L570.30,1232.50 L569.13,1234.44 L567.93,1236.35 L566.72,1238.22 L565.48,1240.04 L564.21,1241.81 L562.91,1243.51 L561.57,1245.15 L560.20,1246.70 L558.75,1247.55 L557.27,1248.34 L555.76,1249.07 L554.23,1249.76 L552.68,1250.40 L551.12,1251.02 L549.56,1251.61 L548.00,1252.20 L546.45,1252.56 L544.97,1252.87 L543.50,1253.16 L542.02,1253.43 L540.47,1253.68 L538.82,1253.92 L537.01,1254.16 L535.00,1254.40 L515.10,1254.73 L492.06,1254.89 L466.60,1254.91 L439.44,1254.83 L411.32,1254.71 L382.95,1254.56 L355.07,1254.45 L328.40,1254.40" fill="none" stroke="#ee3236" stroke-width="2.9" stroke-linejoin="round"/>
<circle cx="95.30" cy="1254.40" r="4.95" fill="#ef3e42" stroke="#ec2d31" stroke-width="0.8"/>
<circle cx="167.30" cy="1217.40" r="4.95" fill="#ef3e42" stroke="#ec2d31" stroke-width="0.8"/>
<circle cx="254.10" cy="1157.20" r="4.95" fill="#ef3e42" stroke="#ec2d31" stroke-width="0.8"/>
<circle cx="336.60" cy="1088.70" r="4.95" fill="#ef3e42" stroke="#ec2d31" stroke-width="0.8"/>
<circle cx="412.20" cy="1020.40" r="4.95" fill="#ef3e42" stroke="#ec2d31" stroke-width="0.8"/>
<circle cx="477.80" cy="959.50" r="4.95" fill="#ef3e42" stroke="#ec2d31" stroke-width="0.8"/>
<circle cx="531.00" cy="905.70" r="4.95" fill="#ef3e42" stroke="#ec2d31" stroke-width="0.8"/>
<circle cx="571.00" cy="866.00" r="4.95" fill="#ef3e42" stroke="#ec2d31" stroke-width="0.8"/>
<circle cx="594.50" cy="843.50" r="4.95" fill="#ef3e42" stroke="#ec2d31" stroke-width="0.8"/>
<circle cx="603.00" cy="838.25" r="4.95" fill="#ef3e42" stroke="#ec2d31" stroke-width="0.8"/>
<circle cx="594.10" cy="1034.10" r="4.95" fill="#ef3e42" stroke="#ec2d31" stroke-width="0.8"/>
<circle cx="578.40" cy="1207.30" r="4.95" fill="#ef3e42" stroke="#ec2d31" stroke-width="0.8"/>
<circle cx="560.20" cy="1246.70" r="4.95" fill="#ef3e42" stroke="#ec2d31" stroke-width="0.8"/>
<circle cx="541.80" cy="1254.40" r="4.95" fill="#ef3e42" stroke="#ec2d31" stroke-width="0.8"/>
<circle cx="523.00" cy="1254.40" r="4.95" fill="#ef3e42" stroke="#ec2d31" stroke-width="0.8"/>
<circle cx="505.00" cy="1254.40" r="4.95" fill="#ef3e42" stroke="#ec2d31" stroke-width="0.8"/>
<circle cx="487.00" cy="1254.40" r="4.95" fill="#ef3e42" stroke="#ec2d31" stroke-width="0.8"/>
<circle cx="468.00" cy="1254.40" r="4.95" fill="#ef3e42" stroke="#ec2d31" stroke-width="0.8"/>
<circle cx="450.30" cy="1254.40" r="4.95" fill="#ef3e42" stroke="#ec2d31" stroke-width="0.8"/>
<circle cx="432.10" cy="1254.40" r="4.95" fill="#ef3e42" stroke="#ec2d31" stroke-width="0.8"/>
<circle cx="413.75" cy="1254.40" r="4.95" fill="#ef3e42" stroke="#ec2d31" stroke-width="0.8"/>
<circle cx="396.00" cy="1254.40" r="4.95" fill="#ef3e42" stroke="#ec2d31" stroke-width="0.8"/>
<circle cx="377.75" cy="1254.40" r="4.95" fill="#ef3e42" stroke="#ec2d31" stroke-width="0.8"/>
<circle cx="360.90" cy="1254.40" r="4.95" fill="#ef3e42" stroke="#ec2d31" stroke-width="0.8"/>
<circle cx="345.00" cy="1254.40" r="4.95" fill="#ef3e42" stroke="#ec2d31" stroke-width="0.8"/>
<circle cx="328.40" cy="1254.40" r="4.95" fill="#ef3e42" stroke="#ec2d31" stroke-width="0.8"/>
</g>
<text x="429.6" y="1333.5" text-anchor="middle" class="at">Displacement (mm)</text>
<text transform="translate(23.9,984.3) rotate(-90)" text-anchor="middle" class="at">Force (N)</text>
<text x="432.7" y="1379" text-anchor="middle" class="cap">(b) Force-displacement curves</text>
<path d="M39.8,0 H49.9 V1.5 H39.8Z M56.4,0 H60.2 V1.5 H56.4Z M69.2,0 H73.3 V1.5 H69.2Z" fill="#9a9a9a"/>
</svg>
</body></html>
